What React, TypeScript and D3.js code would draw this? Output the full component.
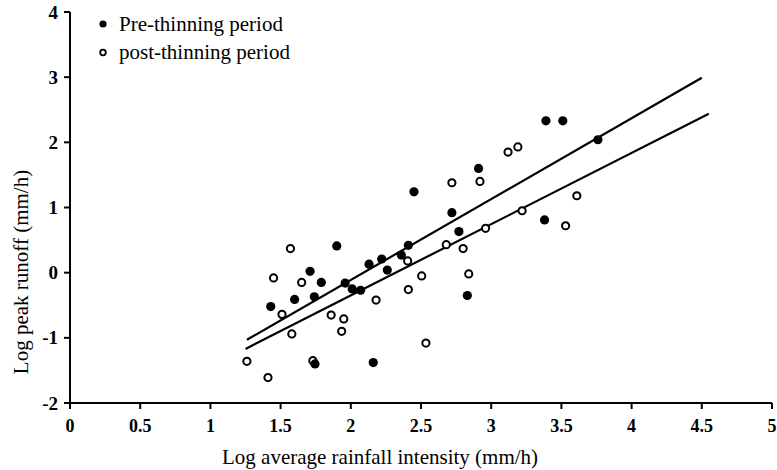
import React from "react";
import * as d3 from "d3";

const preX = [1.43, 1.60, 1.71, 1.74, 1.79, 1.745, 1.90, 1.96, 2.01, 2.07, 2.13, 2.16, 2.22, 2.26, 2.36, 2.41, 2.45, 2.72, 2.77, 2.83, 2.91, 3.38, 3.39, 3.51, 3.76];
const preY = [-0.52, -0.41, 0.02, -0.37, -0.15, -1.40, 0.41, -0.16, -0.25, -0.27, 0.13, -1.38, 0.21, 0.04, 0.27, 0.42, 1.24, 0.92, 0.63, -0.35, 1.60, 0.81, 2.33, 2.33, 2.04];

const postX = [1.26, 1.41, 1.45, 1.51, 1.57, 1.58, 1.65, 1.73, 1.86, 1.935, 1.95, 2.18, 2.405, 2.41, 2.505, 2.535, 2.68, 2.72, 2.80, 2.84, 2.92, 2.96, 3.12, 3.19, 3.22, 3.53, 3.61];
const postY = [-1.36, -1.61, -0.08, -0.64, 0.37, -0.94, -0.15, -1.35, -0.65, -0.90, -0.71, -0.42, 0.18, -0.26, -0.05, -1.08, 0.43, 1.38, 0.37, -0.02, 1.40, 0.68, 1.85, 1.93, 0.95, 0.72, 1.18];

const preLineX = [1.26, 4.5];
const preLineY = [-1.03, 2.99];
const postLineX = [1.25, 4.55];
const postLineY = [-1.17, 2.44];

const xTicks = [0, 0.5, 1, 1.5, 2, 2.5, 3, 3.5, 4, 4.5, 5];
const yTicks = [-2, -1, 0, 1, 2, 3, 4];

const legendLabels = ["Pre-thinning period", "post-thinning period"];

export default function App() {
  const W = 777;
  const H = 470;
  const x = d3.scaleLinear().domain([0, 5]).range([70, 772]);
  const y = d3.scaleLinear().domain([-2, 4]).range([403, 12]);
  const line = d3
    .line<[number, number]>()
    .x((d) => x(d[0]))
    .y((d) => y(d[1]));
  const preLine = preLineX.map((v, i) => [v, preLineY[i]] as [number, number]);
  const postLine = postLineX.map((v, i) => [v, postLineY[i]] as [number, number]);
  const serif = "'Liberation Serif', 'Times New Roman', serif";
  const fmt = (v: number) => (Number.isInteger(v) ? String(v) : v.toFixed(1));

  return (
    <svg
      width={W}
      height={H}
      style={{ position: "absolute", left: 0, top: 0, display: "block", background: "#fff" }}
    >
      {/* axes */}
      <line x1={x(0)} x2={x(5)} y1={y(-2)} y2={y(-2)} stroke="#000" strokeWidth={2} />
      <line x1={x(0)} x2={x(0)} y1={y(-2)} y2={y(4)} stroke="#000" strokeWidth={2} />
      {xTicks.map((t) => (
        <g key={"xt" + t}>
          <line x1={x(t)} x2={x(t)} y1={y(-2)} y2={y(-2) + 6} stroke="#000" strokeWidth={2} />
          <text
            x={x(t)}
            y={y(-2) + 29}
            textAnchor="middle"
            fontFamily={serif}
            fontWeight="bold"
            fontSize={18}
          >
            {fmt(t)}
          </text>
        </g>
      ))}
      {yTicks.map((t) => (
        <g key={"yt" + t}>
          <line x1={x(0) - 6} x2={x(0)} y1={y(t)} y2={y(t)} stroke="#000" strokeWidth={2} />
          <text
            x={x(0) - 12}
            y={y(t)}
            dy="0.35em"
            textAnchor="end"
            fontFamily={serif}
            fontWeight="bold"
            fontSize={19}
          >
            {fmt(t)}
          </text>
        </g>
      ))}
      {/* axis titles */}
      <text x={222} y={464} textAnchor="start" fontFamily={serif} fontSize={21}>
        Log average rainfall intensity (mm/h)
      </text>
      <text
        transform={`translate(28,${272}) rotate(-90)`}
        textAnchor="middle"
        fontFamily={serif}
        fontSize={21}
      >
        Log peak runoff (mm/h)
      </text>

      {/* regression lines */}
      <path d={line(preLine) || ""} fill="none" stroke="#000" strokeWidth={2.2} />
      <path d={line(postLine) || ""} fill="none" stroke="#000" strokeWidth={2.2} />

      {/* points */}
      {postX.map((v, i) => (
        <circle
          key={"po" + i}
          cx={x(v)}
          cy={y(postY[i])}
          r={3.6}
          fill="#fff"
          stroke="#000"
          strokeWidth={2}
        />
      ))}
      {preX.map((v, i) => (
        <circle key={"pr" + i} cx={x(v)} cy={y(preY[i])} r={4.6} fill="#000" />
      ))}

      {/* legend */}
      <circle cx={103} cy={24} r={3.6} fill="#000" />
      <circle cx={103} cy={52.5} r={2.8} fill="#fff" stroke="#000" strokeWidth={1.8} />
      <text x={119} y={31} fontFamily={serif} fontSize={21}>
        {legendLabels[0]}
      </text>
      <text x={119} y={59} fontFamily={serif} fontSize={21}>
        {legendLabels[1]}
      </text>
    </svg>
  );
}
